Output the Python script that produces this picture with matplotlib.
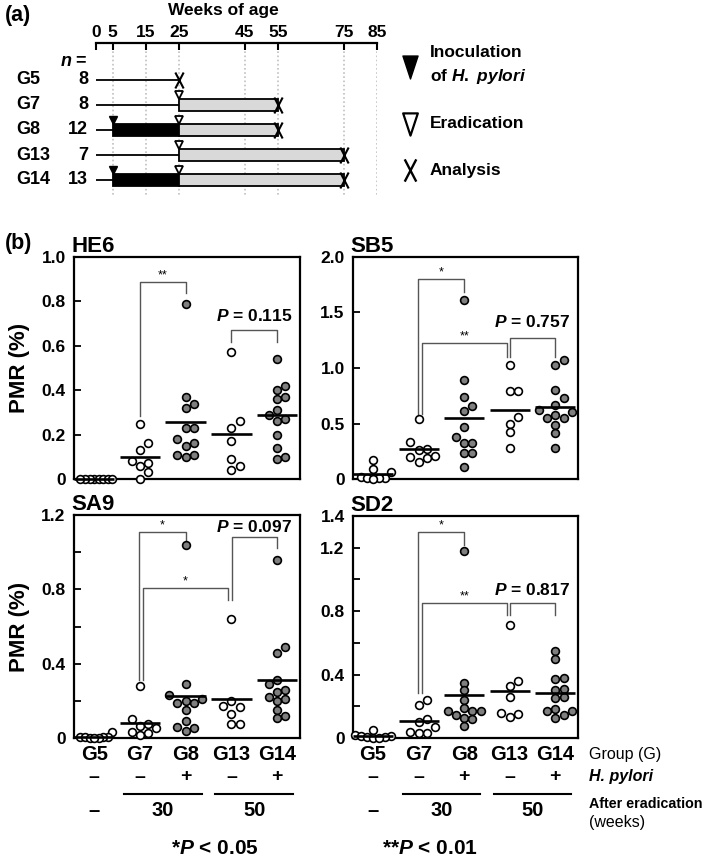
"""Timeline of H. pylori infection groups and PMR of four methylation markers."""

import matplotlib

matplotlib.use("Agg")
import matplotlib.pyplot as plt
import numpy as np
from matplotlib.path import Path
from matplotlib.transforms import blended_transform_factory

plt.rcParams["font.family"] = ["Liberation Sans", "DejaVu Sans"]
plt.rcParams["font.weight"] = "bold"
plt.rcParams["mathtext.fontset"] = "custom"
plt.rcParams["mathtext.it"] = "Liberation Sans:italic:bold"
plt.rcParams["mathtext.rm"] = "Liberation Sans:bold"
plt.rcParams["mathtext.bf"] = "Liberation Sans:bold"

NARROW = ["Liberation Sans Narrow", "Liberation Sans", "DejaVu Sans"]

W, H = 709, 860

# ---- (a) study design ----
GROUPS = ["G5", "G7", "G8", "G13", "G14"]
GROUP_N = [8, 8, 12, 7, 13]
WEEK_TICKS = [0, 5, 15, 25, 45, 55, 75, 85]
INOCULATION_WEEK = [None, None, 5, None, 5]
ERADICATION_WEEK = [None, 25, 25, 25, 25]
ANALYSIS_WEEK = [25, 55, 55, 75, 75]

# ---- (b) PMR (%) per group, order G5, G7, G8, G13, G14 ----
HP_STATUS = ["\u2013", "\u2013", "+", "\u2013", "+"]
INFECTED = [False, False, True, False, True]

HE6 = [
    [0, 0, 0, 0, 0, 0, 0, 0],
    [0.25, 0.16, 0.13, 0.08, 0.07, 0.06, 0.03, 0.0],
    [0.79, 0.37, 0.34, 0.32, 0.23, 0.23, 0.18, 0.16, 0.15, 0.11, 0.11, 0.10],
    [0.57, 0.26, 0.23, 0.17, 0.09, 0.06, 0.04],
    [0.54, 0.42, 0.40, 0.37, 0.36, 0.31, 0.29, 0.27, 0.26, 0.20, 0.14, 0.10, 0.09],
]
SB5 = [
    [0.17, 0.09, 0.06, 0.02, 0.01, 0.01, 0.005, 0.0],
    [0.54, 0.33, 0.27, 0.26, 0.21, 0.20, 0.19, 0.15],
    [1.61, 0.89, 0.74, 0.66, 0.61, 0.47, 0.38, 0.32, 0.32, 0.23, 0.23, 0.11],
    [1.03, 0.79, 0.79, 0.56, 0.50, 0.42, 0.28],
    [1.07, 1.03, 0.80, 0.73, 0.67, 0.62, 0.60, 0.58, 0.55, 0.55, 0.49, 0.41, 0.28],
]
SA9 = [
    [0.03, 0.005, 0.005, 0.003, 0.003, 0.002, 0.001, 0.0],
    [0.28, 0.10, 0.075, 0.065, 0.055, 0.03, 0.025, 0.015],
    [1.04, 0.29, 0.23, 0.21, 0.20, 0.19, 0.19, 0.15, 0.09, 0.06, 0.055, 0.035],
    [0.64, 0.20, 0.17, 0.165, 0.13, 0.075, 0.075],
    [0.96, 0.49, 0.46, 0.31, 0.29, 0.26, 0.25, 0.22, 0.21, 0.20, 0.15, 0.12, 0.105],
]
SD2 = [
    [0.05, 0.02, 0.01, 0.01, 0.005, 0.005, 0.0, 0.0],
    [0.24, 0.21, 0.12, 0.10, 0.07, 0.035, 0.03, 0.03],
    [1.18, 0.35, 0.30, 0.24, 0.19, 0.17, 0.17, 0.17, 0.145, 0.125, 0.12, 0.075],
    [0.71, 0.36, 0.33, 0.26, 0.155, 0.15, 0.13],
    [0.55, 0.50, 0.38, 0.37, 0.31, 0.30, 0.26, 0.25, 0.18, 0.17, 0.17, 0.145, 0.125],
]

YMAX = {"HE6": 1.0, "SB5": 2.0, "SA9": 1.2, "SD2": 1.4}
YTICKS = {
    "HE6": [0, 0.2, 0.4, 0.6, 0.8, 1.0],
    "SB5": [0, 0.5, 1.0, 1.5, 2.0],
    "SA9": [0, 0.2, 0.4, 0.6, 0.8, 1.0, 1.2],
    "SD2": [0, 0.2, 0.4, 0.6, 0.8, 1.0, 1.2, 1.4],
}
YTICKLABELS = {
    "HE6": ["0", "0.2", "0.4", "0.6", "0.8", "1.0"],
    "SB5": ["0", "0.5", "1.0", "1.5", "2.0"],
    "SA9": ["0", "", "0.4", "", "0.8", "", "1.2"],
    "SD2": ["0", "", "0.4", "", "0.8", "", "1.2", "1.4"],
}

# brackets: (left group, left dx, left bottom, right group, right dx, right bottom, top, label, label y)
BRACKETS = {
    "HE6": [
        (2, 0.0, 0.285, 3, 0.0, 0.84, 0.886, "**", None),
        (4, 0.0, 0.616, 5, 0.0, 0.616, 0.672, "0.115", 0.736),
    ],
    "SB5": [
        (2, -0.01, 0.583, 3, 0.0, 1.687, 1.799, "*", None),
        (2, 0.07, 0.583, 4, -0.05, 1.102, 1.222, "**", None),
        (4, 0.0, 1.102, 5, 0.0, 1.102, 1.273, "0.757", 1.41),
    ],
    "SA9": [
        (2, -0.01, 0.312, 3, 0.0, 1.066, 1.107, "*", None),
        (2, 0.07, 0.312, 4, -0.07, 0.743, 0.809, "*", None),
        (4, 0.01, 0.743, 5, 0.0, 1.021, 1.083, "0.097", 1.137),
    ],
    "SD2": [
        (2, -0.01, 0.282, 3, 0.0, 1.217, 1.297, "*", None),
        (2, 0.07, 0.282, 4, -0.06, 0.776, 0.853, "**", None),
        (4, 0.0, 0.776, 5, 0.0, 0.776, 0.853, "0.817", 0.933),
    ],
}


def px_rect(left, top, right, bottom):
    return [left / W, 1 - bottom / H, (right - left) / W, (bottom - top) / H]


def fy(py):
    return 1 - py / H


def swarm_offsets(ax, values, step_px=8.3, min_px=7.8, max_units=0.4):
    p0 = ax.transData.transform((0, 0))
    p1 = ax.transData.transform((1, 1))
    sx, sy = p1 - p0
    values = np.asarray(values, dtype=float)
    offsets = np.zeros(len(values))
    placed = []
    candidates = [0, 1, -1, 2, -2, 3, -3, 4, -4, 5, -5]
    for i in np.argsort(values, kind="stable"):
        y = values[i] * sy
        x = 0.0
        for c in candidates:
            x = c * step_px
            if all(np.hypot(x - px, y - py) >= min_px for px, py in placed):
                break
        placed.append((x, y))
        offsets[i] = x / sx
    biggest = np.abs(offsets).max()
    if biggest > max_units:
        offsets *= max_units / biggest
    return offsets


tall_x = Path(
    [(-0.26, -0.5), (0.26, 0.5), (0.26, -0.5), (-0.26, 0.5)],
    [Path.MOVETO, Path.LINETO, Path.MOVETO, Path.LINETO],
)
tall_tri = Path(
    [(-0.33, 0.5), (0.33, 0.5), (0.0, -0.5), (-0.33, 0.5)],
    [Path.MOVETO, Path.LINETO, Path.LINETO, Path.CLOSEPOLY],
)

fig = plt.figure(figsize=(W / 100, H / 100), dpi=100)

# ================= (a) =================
ax_a = fig.add_axes(px_rect(96, 43, 377, 195))
ax_a.set_xlim(0, 85)
ax_a.set_ylim(4.6, -1.48)
for side in ["left", "right", "bottom"]:
    ax_a.spines[side].set_visible(False)
ax_a.spines["top"].set_linewidth(1.6)
ax_a.xaxis.tick_top()
ax_a.set_xticks(WEEK_TICKS)
ax_a.tick_params(axis="x", direction="in", length=5, width=1.5, pad=2, labelsize=12.5)
ax_a.set_yticks([])
ax_a.vlines(WEEK_TICKS[1:], -1.48, 4.6, colors="#c0c0c0", linestyles=(0, (1, 1.5)), lw=1.2, zorder=0)

rows = np.arange(len(GROUPS))
bar_h = 0.46
for row, inoc, erad, end in zip(rows, INOCULATION_WEEK, ERADICATION_WEEK, ANALYSIS_WEEK):
    first = inoc if inoc is not None else (erad if erad is not None else end)
    ax_a.plot([0, first], [row, row], color="black", lw=1.3, zorder=2)
    if inoc is not None:
        ax_a.barh(row, erad - inoc, left=inoc, height=bar_h, color="black",
                  edgecolor="black", lw=1.3, zorder=3)
        ax_a.plot(inoc, row - bar_h / 2 - 0.18, marker="v", ms=6, color="black",
                  clip_on=False, zorder=4)
    if erad is not None:
        ax_a.barh(row, end - erad, left=erad, height=bar_h, color="#d9d9d9",
                  edgecolor="black", lw=1.3, zorder=3)
        ax_a.plot(erad, row - bar_h / 2 - 0.18, marker="v", ms=6, mfc="white",
                  mec="black", mew=1.3, clip_on=False, zorder=4)
    ax_a.plot(end, row, marker=tall_x, ms=11.5, mew=1.5, color="black",
              clip_on=False, zorder=5)

for row, name, n in zip(rows, GROUPS, GROUP_N):
    ax_a.text(-24, row, name, ha="left", va="center", fontsize=13)
    ax_a.text(-2.4, row, str(n), ha="right", va="center", fontsize=13)
ax_a.text(-2.4, -0.72, r"$\mathit{n}$ =", ha="right", va="center", fontsize=13)
ax_a.text(38.4, -1.48 - 1.3, "Weeks of age", ha="center", va="center", fontsize=12.5)
fig.text(5 / W, fy(16), "(a)", ha="left", va="center", fontsize=15.5)

# legend
ax_a.plot(95, -0.52, marker=tall_tri, ms=16.5, color="black", clip_on=False)
ax_a.text(101, -1.08, "Inoculation", ha="left", va="center", fontsize=12.5)
ax_a.text(101, -0.12, r"of $\mathit{H.\ pylori}$", ha="left", va="center", fontsize=12.5)
ax_a.plot(95, 1.76, marker=tall_tri, ms=16, mfc="white", mec="black", mew=1.6, clip_on=False)
ax_a.text(101, 1.76, "Eradication", ha="left", va="center", fontsize=12.5)
ax_a.plot(95, 3.6, marker=tall_x, ms=16, mew=1.7, color="black", clip_on=False)
ax_a.text(101, 3.6, "Analysis", ha="left", va="center", fontsize=12.5)

# ================= (b) =================
PANELS = [
    ("HE6", HE6, (74, 257, 300, 479)),
    ("SB5", SB5, (353, 257, 578, 479)),
    ("SA9", SA9, (74, 515, 300, 738)),
    ("SD2", SD2, (353, 516, 578, 738)),
]
fig.text(5 / W, fy(243), "(b)", ha="left", va="center", fontsize=15.5)

positions = np.arange(1, len(GROUPS) + 1)
axes = {}
for name, data, rect in PANELS:
    ax = fig.add_axes(px_rect(*rect))
    axes[name] = ax
    ax.set_xlim(0.56, 5.5)
    ax.set_ylim(0, YMAX[name])
    for side in ax.spines.values():
        side.set_linewidth(1.6)
    ax.set_xticks([])
    ax.set_yticks(YTICKS[name])
    ax.set_yticklabels(YTICKLABELS[name])
    ax.tick_params(axis="y", direction="in", length=5, width=1.3, pad=6, labelsize=12.5)
    ax.text(-0.01, 1.0, name, transform=ax.transAxes, ha="left", va="bottom", fontsize=16)

    for pos, vals, infected in zip(positions, data, INFECTED):
        offs = swarm_offsets(ax, vals)
        face = "#7f7f7f" if infected else "white"
        ax.plot(pos + offs, vals, ls="none", marker="o", ms=5.6, mfc=face, mec="black",
                mew=1.2, clip_on=False, zorder=3)
        mean = np.mean(vals)
        ax.plot([pos - 0.44, pos + 0.44], [mean, mean], color="black", lw=1.9, zorder=4,
                solid_capstyle="butt", clip_on=False)

    for gl, dxl, yl, gr, dxr, yr, top, label, label_y in BRACKETS[name]:
        xl, xr = gl + dxl, gr + dxr
        ax.plot([xl, xl, xr, xr], [yl, top, top, yr], color="#555555", lw=1.0, zorder=2)
        if label_y is None:
            ax.annotate(label, ((xl + xr) / 2, top), xytext=(0, 0.5), textcoords="offset points",
                        ha="center", va="bottom", fontsize=9, fontweight="normal")
        else:
            ax.text((xl + xr) / 2, label_y, r"$\mathit{P}$ = " + label, ha="center",
                    va="center", fontsize=12.5)

for name in ["HE6", "SA9"]:
    ax = axes[name]
    box = ax.get_position()
    fig.text(20 / W, box.y0 + box.height / 2, "PMR (%)", rotation=90, ha="center",
             va="center", fontsize=16)

# condition table under the lower panels
AFTER_ERADICATION = ["\u2013", "30", "50"]
AFTER_POS = [1, 2.5, 4.5]
for name in ["SA9", "SD2"]:
    ax = axes[name]
    trans = blended_transform_factory(ax.transData, fig.transFigure)
    for pos, g, hp in zip(positions, GROUPS, HP_STATUS):
        ax.text(pos, fy(754), g, transform=trans, ha="center", va="center",
                fontsize=14.5, family=NARROW)
        ax.text(pos, fy(777), hp, transform=trans, ha="center", va="center",
                fontsize=14, family=NARROW)
    for a, b in [(2, 3), (4, 5)]:
        ax.plot([a - 0.35, b + 0.35], [fy(794), fy(794)], transform=trans, color="black",
                lw=1.5, clip_on=False)
    for pos, txt in zip(AFTER_POS, AFTER_ERADICATION):
        ax.text(pos, fy(810), txt, transform=trans, ha="center", va="center",
                fontsize=14.5, family=NARROW)

fig.text(589 / W, fy(754), "Group (G)", ha="left", va="center", fontsize=11.5,
         fontweight="normal", family=NARROW)
fig.text(589 / W, fy(777), "H. pylori", ha="left", va="center", fontsize=11.5,
         fontstyle="italic", family=NARROW)
fig.text(589 / W, fy(804), "After eradication", ha="left", va="center", fontsize=10.3,
         family=NARROW)
fig.text(589 / W, fy(823), "(weeks)", ha="left", va="center", fontsize=11.5,
         fontweight="normal", family=NARROW)

fig.text(215 / W, fy(848), r"*$\mathit{P}$ < 0.05", ha="center", va="center",
         fontsize=15, family=NARROW)
fig.text(430 / W, fy(848), r"**$\mathit{P}$ < 0.01", ha="center", va="center",
         fontsize=15, family=NARROW)

fig.savefig("out.png", dpi=100)
